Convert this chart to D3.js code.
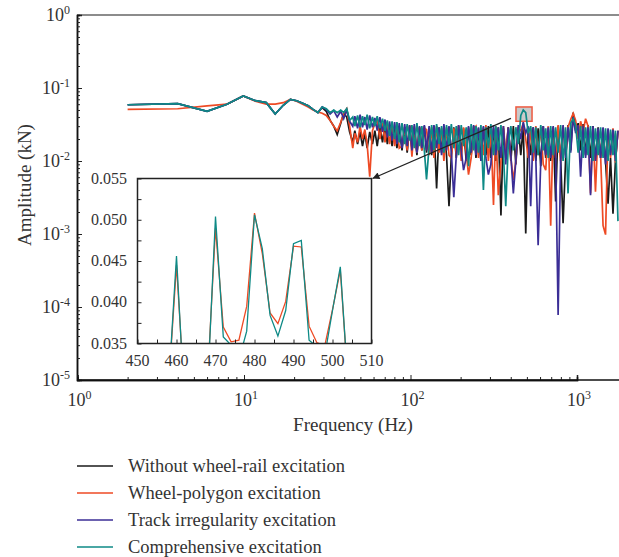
<!DOCTYPE html>
<html>
<head>
<meta charset="utf-8">
<script src="https://cdn.jsdelivr.net/npm/d3@7"></script>
<style>
  body { margin: 0; background: #fff; }
</style>
</head>
<body>
<div class="chart"></div>
<script>
// ---- data ----
// frequencies (Hz): low part, then the dense high-frequency band
const freqLow = [2, 4, 6, 7.9, 9.9, 11.7, 13.6, 15.4, 17.2, 19.0, 20.7, 22.5, 24.3, 26.0, 27.8, 29.5, 31.2, 32.9, 34.6, 36.3, 38.1, 39.7, 41.4, 43.1]
const freqHigh = [45, 46.3, 48.1, 49.8, 51.5, 53.2, 54.9, 56.9, 59.1, 61.1,
  63.1, 65.5, 67.9, 70.3, 72.6, 74.9, 77.5, 80.3, 82.9, 85.6,
  88.9, 92.3, 95.5, 98.8, 102, 105.4, 109.3, 113.3, 117, 121.1,
  124.8, 129.4, 134, 138.3, 143.5, 148.5, 153.7, 158.7, 164.6, 170.3,
  175.9, 182, 188.4, 194.5, 201.7, 208.3, 216.1, 223.1, 231.4, 239.5,
  247.3, 255.9, 264.9, 274.1, 283.7, 293.6, 303.8, 315.1, 325.4, 336.8,
  349.3, 361.4, 373.3, 386.3, 400.6, 414.6, 429.1, 444.1, 459.6, 475.6,
  492.2, 509.3, 527.1, 545.5, 565.8, 584.2, 605.9, 627, 648.9, 671.6,
  695, 719.3, 744.4, 770.2, 797.1, 824.9, 853.7, 883.5, 916.4, 948.4,
  981.5, 1016, 1051, 1088, 1126, 1165, 1206, 1248, 1291, 1339,
  1386, 1434, 1484, 1536, 1590, 1645, 1702, 1762]

// amplitudes (kN)
const withoutLow = [0.059, 0.061, 0.048, 0.060, 0.078, 0.067, 0.063, 0.044, 0.058, 0.070, 0.067, 0.062, 0.057, 0.051, 0.046, 0.054, 0.048, 0.036, 0.030, 0.023, 0.033, 0.045, 0.040, 0.025]
const withoutHigh = [0.018, 0.026, 0.017, 0.025, 0.016, 0.024, 0.015, 0.025, 0.017, 0.026,
  0.016, 0.030, 0.018, 0.031, 0.017, 0.030, 0.016, 0.029, 0.015, 0.030,
  0.014, 0.029, 0.013, 0.030, 0.015, 0.028, 0.012, 0.029, 0.014, 0.030,
  0.013, 0.028, 0.012, 0.030, 0.0042, 0.029, 0.013, 0.030, 0.012, 0.0024,
  0.012, 0.029, 0.011, 0.030, 0.013, 0.028, 0.010, 0.029, 0.012, 0.030,
  0.011, 0.028, 0.010, 0.029, 0.012, 0.030, 0.011, 0.028, 0.010, 0.029,
  0.0018, 0.028, 0.011, 0.029, 0.010, 0.030, 0.009, 0.029, 0.012, 0.030,
  0.00102, 0.028, 0.012, 0.029, 0.010, 0.028, 0.0085, 0.030, 0.011, 0.028,
  0.010, 0.029, 0.0028, 0.030, 0.011, 0.0014, 0.010, 0.031, 0.014, 0.046,
  0.026, 0.033, 0.014, 0.032, 0.012, 0.031, 0.011, 0.030, 0.010, 0.029,
  0.011, 0.028, 0.010, 0.0026, 0.011, 0.0019, 0.010, 0.026]

const polygonLow = [0.051, 0.052, 0.057, 0.060, 0.078, 0.066, 0.060, 0.060, 0.063, 0.070, 0.066, 0.060, 0.055, 0.050, 0.047, 0.045, 0.042, 0.036, 0.030, 0.026, 0.034, 0.045, 0.052, 0.030]
const polygonHigh = [0.015, 0.024, 0.018, 0.030, 0.020, 0.027, 0.017, 0.0061, 0.026, 0.033,
  0.036, 0.020, 0.033, 0.018, 0.031, 0.017, 0.030, 0.016, 0.029, 0.015,
  0.016, 0.029, 0.014, 0.031, 0.0115, 0.030, 0.013, 0.029, 0.014, 0.028,
  0.027, 0.012, 0.029, 0.011, 0.030, 0.013, 0.028, 0.010, 0.029, 0.012,
  0.011, 0.028, 0.012, 0.031, 0.010, 0.029, 0.013, 0.0065, 0.011, 0.028,
  0.030, 0.011, 0.028, 0.012, 0.031, 0.010, 0.029, 0.0025, 0.030, 0.0034,
  0.010, 0.030, 0.012, 0.029, 0.011, 0.0055, 0.010, 0.028, 0.026, 0.033,
  0.020, 0.011, 0.028, 0.010, 0.030, 0.012, 0.029, 0.009, 0.0075, 0.030,
  0.0013, 0.029, 0.011, 0.031, 0.010, 0.030, 0.012, 0.029, 0.037, 0.045,
  0.036, 0.020, 0.035, 0.025, 0.038, 0.030, 0.0036, 0.029, 0.0038, 0.027,
  0.012, 0.0013, 0.00098, 0.027, 0.011, 0.028, 0.0095, 0.026]

const trackLow = [0.059, 0.061, 0.048, 0.060, 0.078, 0.067, 0.063, 0.044, 0.058, 0.070, 0.067, 0.062, 0.057, 0.051, 0.046, 0.055, 0.051, 0.044, 0.049, 0.040, 0.048, 0.038, 0.050, 0.035]
const trackHigh = [0.030, 0.041, 0.028, 0.043, 0.029, 0.040, 0.027, 0.042, 0.029, 0.039,
  0.026, 0.040, 0.025, 0.037, 0.021, 0.035, 0.019, 0.034, 0.017, 0.033,
  0.015, 0.032, 0.016, 0.031, 0.014, 0.032, 0.013, 0.030, 0.015, 0.031,
  0.014, 0.030, 0.013, 0.031, 0.015, 0.029, 0.012, 0.032, 0.014, 0.030,
  0.013, 0.0032, 0.012, 0.031, 0.014, 0.0075, 0.011, 0.030, 0.013, 0.031,
  0.012, 0.029, 0.010, 0.030, 0.011, 0.0065, 0.009, 0.031, 0.012, 0.029,
  0.011, 0.030, 0.009, 0.029, 0.012, 0.0036, 0.010, 0.031, 0.020, 0.034,
  0.024, 0.030, 0.0024, 0.029, 0.011, 0.0007, 0.010, 0.030, 0.012, 0.029,
  0.011, 0.030, 0.012, 0.000078, 0.010, 0.031, 0.011, 0.029, 0.013, 0.040,
  0.024, 0.031, 0.0061, 0.030, 0.011, 0.029, 0.0034, 0.030, 0.010, 0.028,
  0.011, 0.029, 0.009, 0.028, 0.012, 0.027, 0.010, 0.026]

const comprehensiveLow = [0.059, 0.061, 0.048, 0.060, 0.078, 0.067, 0.063, 0.044, 0.058, 0.070, 0.067, 0.062, 0.057, 0.051, 0.046, 0.055, 0.052, 0.046, 0.050, 0.046, 0.050, 0.046, 0.052, 0.036]
const comprehensiveHigh = [0.040, 0.030, 0.042, 0.029, 0.041, 0.031, 0.043, 0.028, 0.040, 0.030,
  0.041, 0.028, 0.038, 0.026, 0.036, 0.022, 0.035, 0.020, 0.034, 0.018,
  0.033, 0.017, 0.032, 0.019, 0.031, 0.015, 0.033, 0.016, 0.030, 0.014,
  0.0056, 0.016, 0.031, 0.014, 0.032, 0.017, 0.030, 0.013, 0.031, 0.016,
  0.032, 0.015, 0.030, 0.012, 0.031, 0.016, 0.029, 0.0085, 0.032, 0.014,
  0.030, 0.013, 0.031, 0.0040, 0.029, 0.015, 0.032, 0.012, 0.030, 0.014,
  0.031, 0.013, 0.0024, 0.016, 0.030, 0.014, 0.029, 0.017, 0.042, 0.050,
  0.046, 0.024, 0.030, 0.013, 0.029, 0.012, 0.031, 0.014, 0.028, 0.011,
  0.030, 0.012, 0.029, 0.013, 0.031, 0.010, 0.029, 0.0036, 0.033, 0.038,
  0.031, 0.013, 0.030, 0.011, 0.029, 0.012, 0.030, 0.010, 0.028, 0.012,
  0.029, 0.011, 0.028, 0.010, 0.027, 0.012, 0.026, 0.0015]

// inset (zoom of the peak), 2 Hz steps
const insetFreq = [456, 458, 460, 462, 464, 466, 468, 470, 472, 474, 476, 478, 480, 482, 484, 486, 488, 490, 492, 494, 496, 498, 500, 502, 504, 506]
const insetPolygon = [0.029, 0.030, 0.0445, 0.029, 0.027, 0.028, 0.031, 0.049, 0.037, 0.0352, 0.0354, 0.0395, 0.0508, 0.0459, 0.0387, 0.0374, 0.0401, 0.0468, 0.0467, 0.0371, 0.0351, 0.0347, 0.0391, 0.0439, 0.030, 0.029]
const insetComprehensive = [0.029, 0.030, 0.0456, 0.028, 0.027, 0.028, 0.030, 0.0504, 0.0358, 0.0348, 0.033, 0.0365, 0.0506, 0.0465, 0.0384, 0.0359, 0.039, 0.0471, 0.0475, 0.0354, 0.0346, 0.0335, 0.039, 0.0443, 0.030, 0.029]

const names = ["Without wheel-rail excitation", "Wheel-polygon excitation", "Track irregularity excitation", "Comprehensive excitation"]
const colors = ["#1a1a1a", "#ee4a24", "#3b2e96", "#0e8a86"]

// ---- layout ----
let w = 619
let h = 557
let serif = "'Liberation Serif', 'DejaVu Serif', 'Times New Roman', serif"
let freq = freqLow.concat(freqHigh)
let series = [
  withoutLow.concat(withoutHigh),
  polygonLow.concat(polygonHigh),
  trackLow.concat(trackHigh),
  comprehensiveLow.concat(comprehensiveHigh)
]

let svg = d3.select(".chart")
  .append("svg")
  .attr("width", w)
  .attr("height", h)
  .attr("font-family", serif)

const xScale = d3.scaleLog().domain([1, 1000]).range([77.5, 577])
const yScale = d3.scaleLog().domain([1e-5, 1]).range([380, 15])
const pLeft = 77, pRight = 619, pTop = 15, pBottom = 380

let defs = svg.append("defs")
defs.append("clipPath").attr("id", "plotclip")
  .append("rect").attr("x", pLeft).attr("y", pTop).attr("width", pRight - pLeft).attr("height", pBottom - pTop)

// zoom box on the main plot (behind the lines)
svg.append("rect")
  .attr("x", xScale(430)).attr("y", yScale(0.055))
  .attr("width", xScale(537) - xScale(430))
  .attr("height", yScale(0.035) - yScale(0.055))
  .attr("fill", "#cacaca")
  .attr("stroke", "#ee5a40")
  .attr("stroke-width", 1.5)

let line = d3.line()
  .x((d) => xScale(d[0]))
  .y((d) => yScale(d[1]))

let plot = svg.append("g").attr("clip-path", "url(#plotclip)")
series.forEach((vals, i) => {
  plot.append("path")
    .datum(freq.map((f, j) => [f, vals[j]]))
    .attr("d", line)
    .attr("fill", "none")
    .attr("stroke", colors[i])
    .attr("stroke-width", 1.7)
})

// top border
svg.append("line")
  .attr("x1", pLeft).attr("x2", pRight).attr("y1", pTop).attr("y2", pTop)
  .attr("stroke", "#666").attr("stroke-width", 1.5)

// y axis
let yMajor = [1e-5, 1e-4, 1e-3, 1e-2, 1e-1, 1]
let yMinor = []
yMajor.slice(0, 5).forEach((d) => { for (let k = 2; k < 10; k++) yMinor.push(d * k) })

svg.append("g")
  .attr("transform", "translate(" + pLeft + ",0)")
  .call(d3.axisLeft(yScale).tickValues(yMajor).tickSize(-5).tickFormat(""))
svg.append("g")
  .attr("transform", "translate(" + pLeft + ",0)")
  .call(d3.axisLeft(yScale).tickValues(yMinor).tickSize(-3).tickFormat(""))

// x axis
let xMajor = [1, 10, 100, 1000]
let xMinor = []
xMajor.forEach((d) => { for (let k = 2; k < 10; k++) xMinor.push(d * k) })

svg.append("g")
  .attr("transform", "translate(0," + pBottom + ")")
  .call(d3.axisBottom(xScale).tickValues(xMajor).tickSize(-5).tickFormat(""))
svg.append("g")
  .attr("transform", "translate(0," + pBottom + ")")
  .call(d3.axisBottom(xScale).tickValues(xMinor.filter((d) => xScale(d) < pRight)).tickSize(-3).tickFormat(""))

svg.selectAll(".domain").attr("stroke", "#111").attr("stroke-width", 1.5)
svg.selectAll(".tick line").attr("stroke", "#222")
// extend x axis line to the picture edge
svg.append("line")
  .attr("x1", pLeft).attr("x2", pRight).attr("y1", pBottom).attr("y2", pBottom)
  .attr("stroke", "#111").attr("stroke-width", 1.5)

// power-of-ten labels
let yLab = svg.selectAll(".ylab")
  .data(yMajor)
  .enter()
  .append("text")
  .attr("class", "ylab")
  .attr("x", 70)
  .attr("y", (d) => yScale(d) + 6)
  .attr("text-anchor", "end")
  .attr("fill", "#333")
  .style("font-size", "18px")
yLab.append("tspan").text("10")
yLab.append("tspan").attr("dy", -7).style("font-size", "12px").text((d) => Math.round(Math.log10(d)))

let xLab = svg.selectAll(".xlab")
  .data(xMajor)
  .enter()
  .append("text")
  .attr("class", "xlab")
  .attr("x", (d) => xScale(d) + 2)
  .attr("y", 406)
  .attr("text-anchor", "middle")
  .attr("fill", "#333")
  .style("font-size", "18px")
xLab.append("tspan").text("10")
xLab.append("tspan").attr("dy", -7).style("font-size", "12px").text((d) => Math.round(Math.log10(d)))

svg.append("text")
  .text("Frequency (Hz)")
  .attr("x", 353).attr("y", 431)
  .attr("text-anchor", "middle")
  .attr("fill", "#333")
  .style("font-size", "19px")

svg.append("text")
  .text("Amplitude (kN)")
  .attr("transform", "translate(31,185) rotate(-90)")
  .attr("text-anchor", "middle")
  .attr("fill", "#333")
  .style("font-size", "19px")

// ---- inset ----
const xi = d3.scaleLinear().domain([450, 510]).range([137.5, 371.5])
const yi = d3.scaleLinear().domain([0.035, 0.055]).range([343.5, 178.5])

defs.append("clipPath").attr("id", "insetclip")
  .append("rect").attr("x", 137.5).attr("y", 178.5).attr("width", 234).attr("height", 165)

let inset = svg.append("g")
inset.append("rect")
  .attr("x", 137.5).attr("y", 178.5).attr("width", 234).attr("height", 165)
  .attr("fill", "#fff")

let insetLine = d3.line()
  .x((d) => xi(d[0]))
  .y((d) => yi(d[1]))

let insetG = inset.append("g").attr("clip-path", "url(#insetclip)")
let insetSeries = [[insetPolygon, colors[1]], [insetComprehensive, colors[3]]]
insetSeries.forEach((s) => {
  insetG.append("path")
    .datum(insetFreq.map((f, j) => [f, s[0][j]]))
    .attr("d", insetLine)
    .attr("fill", "none")
    .attr("stroke", s[1])
    .attr("stroke-width", 1.3)
})

inset.append("g")
  .attr("transform", "translate(0,343.5)")
  .call(d3.axisBottom(xi).tickValues(d3.range(450, 511, 5)).tickSize(-4).tickFormat(""))
inset.append("g")
  .attr("transform", "translate(137.5,0)")
  .call(d3.axisLeft(yi).tickValues([0.035, 0.0375, 0.04, 0.0425, 0.045, 0.0475, 0.05, 0.0525, 0.055]).tickSize(-4).tickFormat(""))
inset.selectAll(".domain").remove()
inset.selectAll(".tick line").attr("stroke", "#222")

inset.append("rect")
  .attr("x", 137.5).attr("y", 178.5).attr("width", 234).attr("height", 165)
  .attr("fill", "none").attr("stroke", "#222").attr("stroke-width", 1.5)

inset.selectAll(".ixlab")
  .data(d3.range(450, 511, 10))
  .enter()
  .append("text")
  .attr("x", (d) => xi(d))
  .attr("y", 366)
  .attr("text-anchor", "middle")
  .attr("fill", "#333")
  .style("font-size", "16px")
  .text((d) => d)

inset.selectAll(".iylab")
  .data([0.035, 0.04, 0.045, 0.05, 0.055])
  .enter()
  .append("text")
  .attr("x", 127)
  .attr("y", (d) => yi(d) + 5)
  .attr("text-anchor", "end")
  .attr("fill", "#333")
  .style("font-size", "16px")
  .text((d) => d3.format(".3f")(d))

// arrow from the zoom box to the inset
defs.append("marker")
  .attr("id", "arrow")
  .attr("viewBox", "0 0 10 10")
  .attr("refX", 10).attr("refY", 5)
  .attr("markerWidth", 9).attr("markerHeight", 7)
  .attr("markerUnits", "userSpaceOnUse")
  .attr("orient", "auto")
  .append("path").attr("d", "M0,0 L10,5 L0,10 z").attr("fill", "#222")

svg.append("line")
  .attr("x1", xScale(430) - 5).attr("y1", yScale(0.035) - 3)
  .attr("x2", xi(510) + 1).attr("y2", yi(0.055))
  .attr("stroke", "#222").attr("stroke-width", 1.3)
  .attr("marker-end", "url(#arrow)")

// ---- legend ----
let legend = svg.append("g")
names.forEach((n, i) => {
  let yy = 466 + i * 27
  legend.append("line")
    .attr("x1", 77).attr("x2", 113).attr("y1", yy).attr("y2", yy)
    .attr("stroke", colors[i]).attr("stroke-width", 1.5)
  legend.append("text")
    .attr("x", 128).attr("y", yy + 6)
    .attr("fill", "#333")
    .style("font-size", "18.5px")
    .text(n)
})
</script>
</body>
</html>
